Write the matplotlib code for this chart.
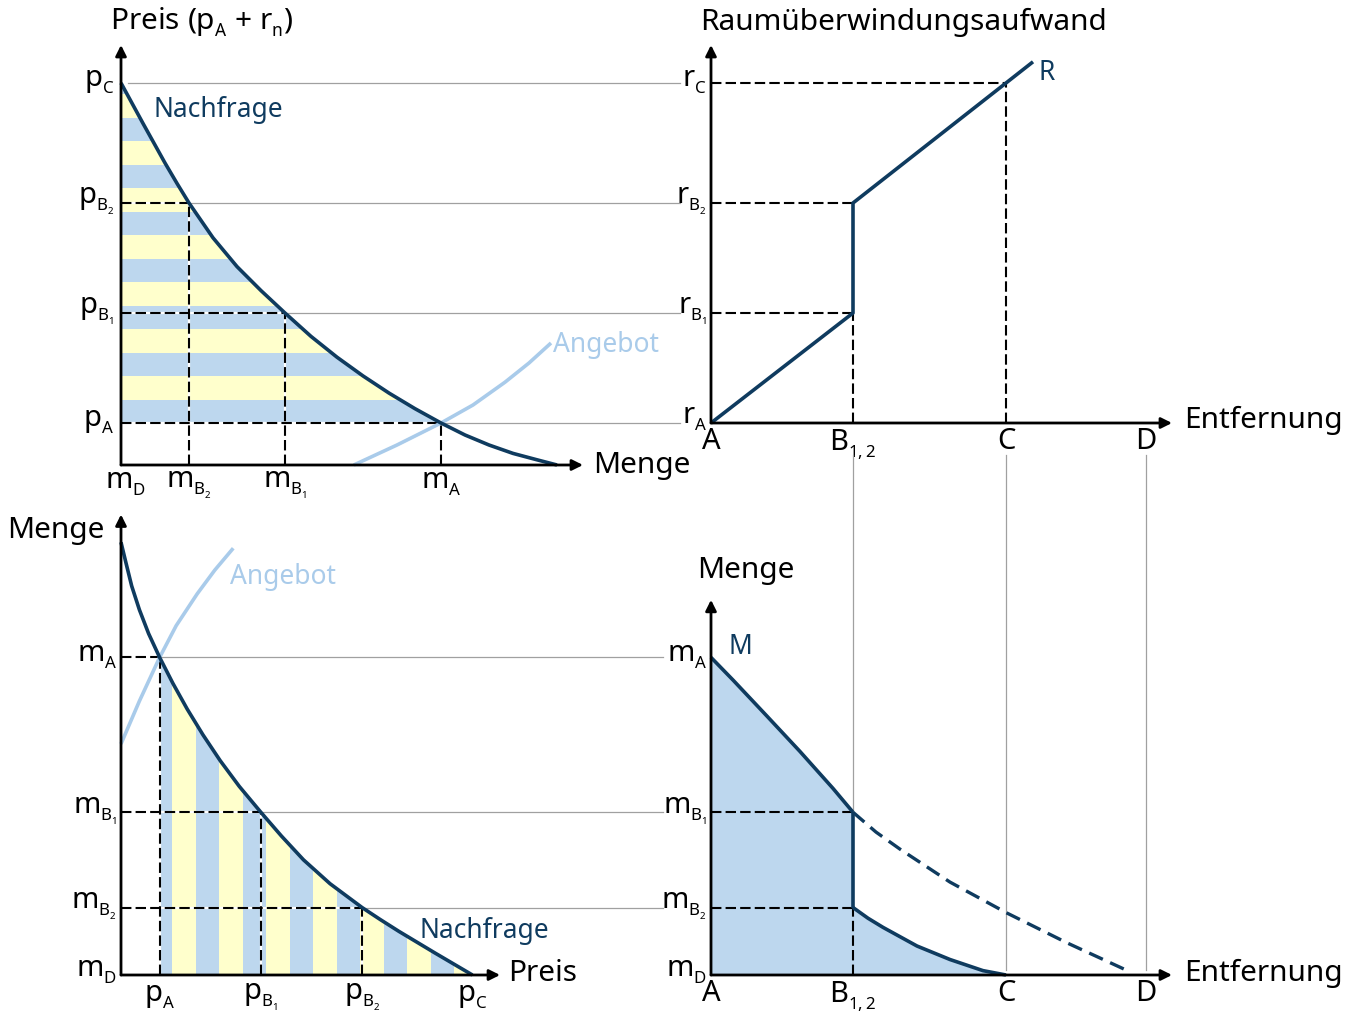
import numpy as np
import matplotlib
matplotlib.use("Agg")
import matplotlib.pyplot as plt
import matplotlib._mathtext as _mt
from matplotlib.patches import Polygon

FONT = "Noto Sans"
plt.rcParams['font.family'] = [FONT, 'DejaVu Sans']
plt.rcParams['mathtext.fontset'] = 'custom'
plt.rcParams['mathtext.rm'] = FONT
# the original uses very small, low subscripts
_mt.SHRINK_FACTOR = 0.58
_mt.FontConstantsBase.sub1 = 0.45

# --- values ----------------------------------------------------------------
# prices and quantities of the market diagram
p_A, p_B1, p_B2, p_C = 1.05, 3.8, 6.55, 9.55
m_A, m_B1, m_B2, m_D = 8.0, 4.1, 1.7, 0.0
# places along the distance axis
d_A, d_B, d_C, d_D = 0.0, 2.84, 5.9, 8.7

# demand curve (Nachfrage): quantity vs price
demand_m = [0.0, 0.55, 1.1, 1.4, 1.7, 2.3, 2.9, 3.5, 4.1, 4.75, 5.4, 6.05,
            6.7, 7.35, 8.0, 8.6, 9.2, 9.8, 10.4, 10.9]
demand_p = [9.55, 8.54, 7.55, 7.04, 6.55, 5.68, 4.96, 4.36, 3.8, 3.215, 2.695,
            2.227, 1.798, 1.408, 1.05, 0.75, 0.5, 0.29, 0.13, 0.0]

# supply curve (Angebot)
supply_m = [5.82, 6.9, 8.0, 8.8, 9.6, 10.2, 10.75]
supply_p = [0.0, 0.5, 1.05, 1.5, 2.07, 2.55, 3.05]

# transport cost R over distance
R_d = [d_A, d_B, d_B, d_C, 6.44]
R_r = [0.0, p_B1 - p_A, p_B2 - p_A, p_C - p_A, 9.03]

# quantity M over distance
M_up_d = [0.0, 0.44, 1.12, 1.78, 2.44, d_B]
M_up_m = [m_A, 7.43, 6.52, 5.63, 4.7, m_B1]
M_dash_d = [d_B, 3.3, 3.78, 4.78, 5.92, 7.12, 8.38]
M_dash_m = [m_B1, 3.6, 3.17, 2.34, 1.56, 0.81, 0.08]
M_low_d = [d_B, 3.14, 3.44, 4.12, 4.78, 5.44, d_C]
M_low_m = [m_B2, 1.43, 1.2, 0.73, 0.39, 0.11, 0.0]

# --- style ------------------------------------------------------------------
DARK = "#0f3b5f"
LIGHT = "#a9cbea"
BLUE = "#bdd7ee"
YELLOW = "#ffffcc"
GRAY = "#a0a0a0"
DASH = (0, (5, 2))
AX_FS, TICK_FS, NOTE_FS = 21.5, 21, 19

W, H = 1349, 1017
fig = plt.figure(figsize=(W / 100, H / 100), dpi=100)


def panel(x0, y0, sx, sy, xmax, ymax):
    # origin in pixels, scale in pixels per unit
    ax = fig.add_axes([x0 / W, (H - y0) / H, xmax * sx / W, ymax * sy / H])
    ax.set_xlim(0, xmax)
    ax.set_ylim(0, ymax)
    ax.axis('off')
    return ax


def arrow(ax, start, end):
    ax.annotate('', xy=end, xytext=start, annotation_clip=False,
                arrowprops=dict(arrowstyle='-|>', color='black', lw=2,
                                mutation_scale=16, shrinkA=0, shrinkB=0),
                zorder=6)


def label(ax, txt, xy, dx, dy, ha, va, fs=TICK_FS, color='black'):
    ax.annotate(txt, xy=xy, xytext=(dx, dy), textcoords='offset points',
                ha=ha, va=va, fontsize=fs, color=color, annotation_clip=False)


def dashed(ax, xs, ys, white=False):
    if white:
        ax.plot(xs, ys, color='white', lw=1.6, zorder=2, clip_on=False)
    ax.plot(xs, ys, color='black', lw=1.5, ls=DASH, zorder=3, clip_on=False)


def gray(ax, xs, ys):
    ax.plot(xs, ys, color=GRAY, lw=0.9, zorder=1, clip_on=False)


def curve(ax, xs, ys, **kw):
    ax.plot(xs, ys, solid_joinstyle='round', solid_capstyle='butt',
            clip_on=False, **kw)


ax_tl = panel(121, 465, 40, 40, 14.0, 10.5)
ax_tr = panel(711, 465, 50, 40, 9.3, 10.5)
ax_bl = panel(121, 975, 36.8, 39.7, 14.8, 11.6)
ax_br = panel(711, 975, 50, 39.7, 9.3, 11.6)

dm = np.array(demand_m)
dp = np.array(demand_p)
keep = dp >= p_A

# --- top left: price vs quantity -------------------------------------------
region = Polygon(list(zip(dm[keep], dp[keep])) + [(0, p_A)], closed=True,
                 fc=YELLOW, ec='none', zorder=1)
ax_tl.add_patch(region)
T = 1.175
for k in range(8):
    band = ax_tl.axhspan(p_A + k * T, p_A + k * T + T / 2, color=BLUE, lw=0, zorder=1)
    band.set_clip_path(region)

for m, p in [(m_B2, p_B2), (m_B1, p_B1), (m_A, p_A)]:
    dashed(ax_tl, [0, m], [p, p], white=True)
    dashed(ax_tl, [m, m], [0, p], white=True)
for m, p in [(0.18, p_C), (m_B2, p_B2), (m_B1, p_B1), (m_A, p_A)]:
    gray(ax_tl, [m, 13.98], [p, p])

curve(ax_tl, supply_m, supply_p, color=LIGHT, lw=2.6, zorder=4)
curve(ax_tl, demand_m, demand_p, color=DARK, lw=2.6, zorder=5)
arrow(ax_tl, (0, 0), (11.55, 0))
arrow(ax_tl, (0, 0), (0, 10.5))

label(ax_tl, r'Preis (p$_\mathregular{A}$ + r$_\mathregular{n}$)', (0, 10.5), -8, 16.5, 'left', 'center', AX_FS)
label(ax_tl, 'Menge', (11.55, 0), 7, 0, 'left', 'center', AX_FS)
for txt, p in [(r'$\mathregular{p_C}$', p_C), (r'$\mathregular{p_{B_2}}$', p_B2),
               (r'$\mathregular{p_{B_1}}$', p_B1), (r'$\mathregular{p_A}$', p_A)]:
    label(ax_tl, txt, (0, p), -5, 1, 'right', 'center')
for txt, m in [(r'$\mathregular{m_D}$', m_D + 0.1), (r'$\mathregular{m_{B_2}}$', m_B2),
               (r'$\mathregular{m_{B_1}}$', m_B1), (r'$\mathregular{m_A}$', m_A)]:
    label(ax_tl, txt, (m, 0), 0, -3, 'center', 'top')
ax_tl.text(0.8, 8.875, 'Nachfrage', fontsize=NOTE_FS, color=DARK, ha='left', va='center')
ax_tl.text(10.8, 3.0, 'Angebot', fontsize=NOTE_FS, color=LIGHT, ha='left', va='center')

# --- top right: transport cost over distance --------------------------------
curve(ax_tr, R_d, [p_A + r for r in R_r], color=DARK, lw=2.6, zorder=5)
dashed(ax_tr, [0, d_B], [p_B1, p_B1])
dashed(ax_tr, [0, d_B], [p_B2, p_B2])
dashed(ax_tr, [0, d_C], [p_C, p_C])
dashed(ax_tr, [d_B, d_B], [p_A, p_B1])
dashed(ax_tr, [d_C, d_C], [p_A, p_C])
arrow(ax_tr, (0, p_A), (9.22, p_A))
arrow(ax_tr, (0, p_A), (0, 10.5))

label(ax_tr, 'Raumüberwindungsaufwand', (0, 10.5), -8, 16.5, 'left', 'center', AX_FS)
label(ax_tr, 'Entfernung', (9.22, p_A), 9, 2, 'left', 'center', AX_FS)
for txt, p in [(r'$\mathregular{r_C}$', p_C), (r'$\mathregular{r_{B_2}}$', p_B2),
               (r'$\mathregular{r_{B_1}}$', p_B1), (r'$\mathregular{r_A}$', p_A + 0.08)]:
    label(ax_tr, txt, (0, p), -3, 1, 'right', 'center')
for txt, d in [('A', d_A), (r'B$_\mathregular{1,2}$', d_B), ('C', d_C), ('D', d_D)]:
    label(ax_tr, txt, (d, p_A), 0, -3, 'center', 'top')
label(ax_tr, 'R', (R_d[-1], p_A + R_r[-1]), 10, -8, 'center', 'center', NOTE_FS, DARK)

# --- bottom left: quantity vs price -----------------------------------------
region2 = Polygon(list(zip(dp[keep], dm[keep])) + [(p_A, 0)], closed=True,
                  fc=YELLOW, ec='none', zorder=1)
ax_bl.add_patch(region2)
T2 = 1.277
for k in range(8):
    band = ax_bl.axvspan(0.76 + k * T2, 0.76 + k * T2 + T2 / 2, color=BLUE, lw=0, zorder=1)
    band.set_clip_path(region2)

for m, p in [(m_A, p_A), (m_B1, p_B1), (m_B2, p_B2)]:
    dashed(ax_bl, [0, p], [m, m], white=True)
    dashed(ax_bl, [p, p], [0, m], white=True)
    gray(ax_bl, [p, 14.73], [m, m])

curve(ax_bl, supply_p, supply_m, color=LIGHT, lw=2.6, zorder=4)
curve(ax_bl, demand_p, demand_m, color=DARK, lw=2.6, zorder=5)
arrow(ax_bl, (0, 0), (10.3, 0))
arrow(ax_bl, (0, 0), (0, 11.6))

label(ax_bl, 'Menge', (0, 11.6), -12, -11.5, 'right', 'center', AX_FS)
label(ax_bl, 'Preis', (10.3, 0), 6, 1, 'left', 'center', AX_FS)
for txt, m in [(r'$\mathregular{m_A}$', m_A), (r'$\mathregular{m_{B_1}}$', m_B1),
               (r'$\mathregular{m_{B_2}}$', m_B2), (r'$\mathregular{m_D}$', m_D + 0.05)]:
    label(ax_bl, txt, (0, m), -3, 1, 'right', 'center')
for txt, p in [(r'$\mathregular{p_A}$', p_A), (r'$\mathregular{p_{B_1}}$', p_B1),
               (r'$\mathregular{p_{B_2}}$', p_B2), (r'$\mathregular{p_C}$', p_C)]:
    label(ax_bl, txt, (p, 0), 0, -5, 'center', 'top')
ax_bl.text(2.96, 10.03, 'Angebot', fontsize=NOTE_FS, color=LIGHT, ha='left', va='center')
ax_bl.text(8.12, 1.11, 'Nachfrage', fontsize=NOTE_FS, color=DARK, ha='left', va='center')

# --- bottom right: quantity over distance ----------------------------------
area = list(zip(M_up_d, M_up_m)) + list(zip(M_low_d, M_low_m)) + [(0, 0)]
ax_br.add_patch(Polygon(area, closed=True, fc=BLUE, ec='none', zorder=1))
dashed(ax_br, [0, d_B], [m_B1, m_B1])
dashed(ax_br, [0, d_B], [m_B2, m_B2])
dashed(ax_br, [d_B, d_B], [0, m_B2])
gray(ax_br, [d_B, d_B], [13.1, m_B1])
gray(ax_br, [d_C, d_C], [13.1, 0.12])
gray(ax_br, [d_D, d_D], [13.1, 0.12])

curve(ax_br, M_up_d, M_up_m, color=DARK, lw=2.6, zorder=5)
curve(ax_br, [d_B, d_B], [m_B1, m_B2], color=DARK, lw=2.6, zorder=5)
curve(ax_br, M_low_d, M_low_m, color=DARK, lw=2.6, zorder=5)
ax_br.plot(M_dash_d, M_dash_m, color=DARK, lw=2.4, ls=(0, (4.5, 2.4)), zorder=5)
arrow(ax_br, (0, 0), (9.22, 0))
arrow(ax_br, (0, 0), (0, 9.45))

label(ax_br, 'Menge', (0, 9.45), -10, 21, 'left', 'center', AX_FS)
label(ax_br, 'Entfernung', (9.22, 0), 9, 1, 'left', 'center', AX_FS)
for txt, m in [(r'$\mathregular{m_A}$', m_A), (r'$\mathregular{m_{B_1}}$', m_B1),
               (r'$\mathregular{m_{B_2}}$', m_B2), (r'$\mathregular{m_D}$', m_D + 0.05)]:
    label(ax_br, txt, (0, m), -3, 1, 'right', 'center')
for txt, d in [('A', d_A), (r'B$_\mathregular{1,2}$', d_B), ('C', d_C), ('D', d_D)]:
    label(ax_br, txt, (d, 0), 0, -3, 'center', 'top')
ax_br.text(0.58, 8.26, 'M', fontsize=NOTE_FS, color=DARK, ha='center', va='center')

fig.savefig("out.png", dpi=100)
